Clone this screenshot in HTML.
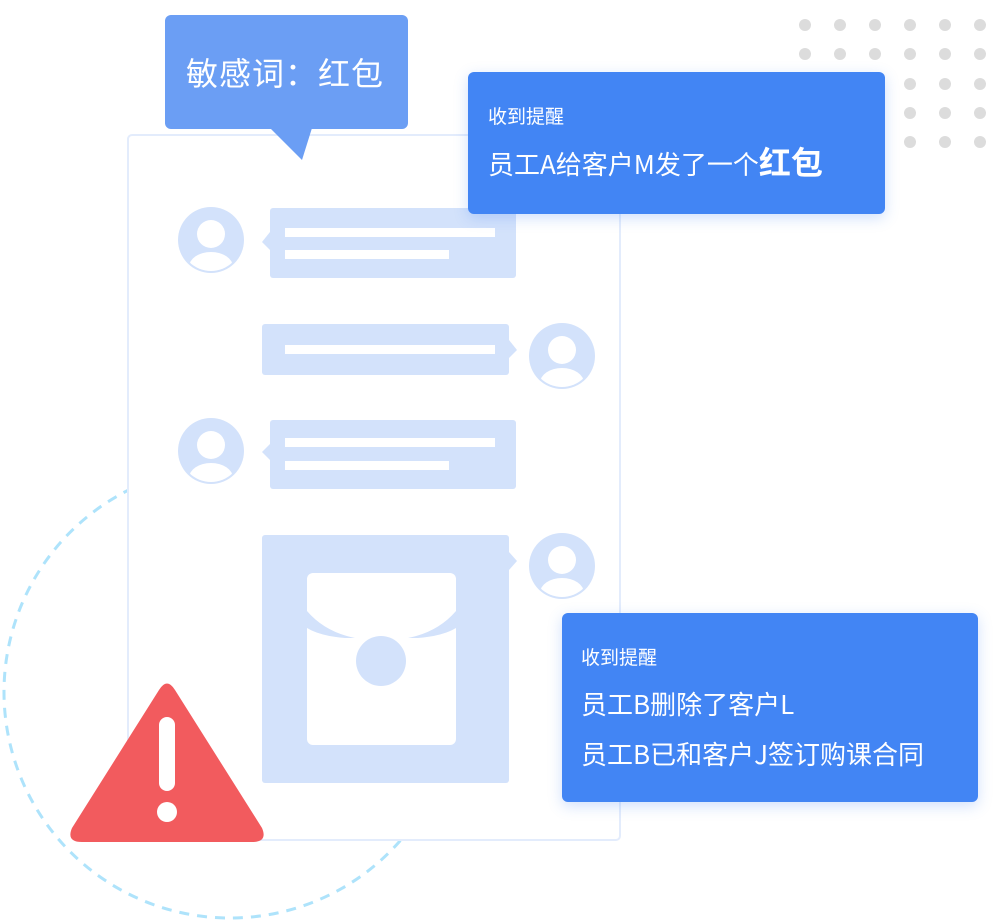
<!DOCTYPE html>
<html><head><meta charset="utf-8"><style>
body{margin:0;width:996px;height:922px;background:#fff;position:relative;overflow:hidden;font-family:"Noto Sans CJK SC","Liberation Sans",sans-serif}
.abs{position:absolute}
.box{position:absolute;background:#4285f4;border-radius:6px;color:#fff;box-shadow:0 4px 14px rgba(66,133,244,.25)}
</style></head><body>
<svg class="abs" style="left:0;top:0" width="996" height="922">
<circle cx="230" cy="692" r="226" fill="none" stroke="#aee3fb" stroke-width="3" stroke-dasharray="10 8"/>
<g fill="#dcdcdc">
<circle cx="805" cy="25" r="6"/><circle cx="840" cy="25" r="6"/><circle cx="875" cy="25" r="6"/><circle cx="910" cy="25" r="6"/><circle cx="945" cy="25" r="6"/><circle cx="980" cy="25" r="6"/>
<circle cx="805" cy="54" r="6"/><circle cx="840" cy="54" r="6"/><circle cx="875" cy="54" r="6"/><circle cx="910" cy="54" r="6"/><circle cx="945" cy="54" r="6"/><circle cx="980" cy="54" r="6"/>
<circle cx="910" cy="84" r="6"/><circle cx="945" cy="84" r="6"/><circle cx="980" cy="84" r="6"/>
<circle cx="910" cy="113" r="6"/><circle cx="945" cy="113" r="6"/><circle cx="980" cy="113" r="6"/>
<circle cx="910" cy="142" r="6"/><circle cx="945" cy="142" r="6"/><circle cx="980" cy="142" r="6"/>
</g>
<rect x="128" y="135" width="492" height="705" rx="4" fill="#fff" stroke="#e3ecfc" stroke-width="2"/>
<g fill="#d3e2fb">
<rect x="270" y="208" width="246" height="70" rx="3"/><polygon points="270,232 262,242 270,250"/>
<rect x="262" y="324" width="247" height="51" rx="3"/><polygon points="509,340 517,350 509,358"/>
<rect x="270" y="420" width="246" height="69" rx="3"/><polygon points="270,444 262,452 270,460"/>
<rect x="262" y="535" width="247" height="248" rx="3"/><polygon points="509,552 517,561 509,570"/>
</g>
<g fill="#fff">
<rect x="285" y="228" width="210" height="9"/><rect x="285" y="250" width="164" height="9"/>
<rect x="285" y="345" width="210" height="9"/>
<rect x="285" y="438" width="210" height="9"/><rect x="285" y="461" width="164" height="9"/>
<rect x="307" y="573" width="149" height="172" rx="6"/>
</g>
<path d="M307 611 Q325 632 355 638 L345 638 Q320 636 307 628 Z M456 611 Q438 632 408 638 L418 638 Q443 636 456 628 Z" fill="#d3e2fb"/>
<circle cx="381" cy="661" r="25" fill="#d3e2fb"/>
<defs><clipPath id="a1"><circle cx="0" cy="0" r="31"/></clipPath></defs>
<g transform="translate(211,240)"><circle r="33" fill="#d3e2fb"/><g clip-path="url(#a1)" fill="#fff"><circle cy="-6" r="14"/><ellipse cy="27" rx="22" ry="15"/></g></g>
<g transform="translate(562,356)"><circle r="33" fill="#d3e2fb"/><g clip-path="url(#a1)" fill="#fff"><circle cy="-6" r="14"/><ellipse cy="27" rx="22" ry="15"/></g></g>
<g transform="translate(211,451)"><circle r="33" fill="#d3e2fb"/><g clip-path="url(#a1)" fill="#fff"><circle cy="-6" r="14"/><ellipse cy="27" rx="22" ry="15"/></g></g>
<g transform="translate(562,566)"><circle r="33" fill="#d3e2fb"/><g clip-path="url(#a1)" fill="#fff"><circle cy="-6" r="14"/><ellipse cy="27" rx="22" ry="15"/></g></g>
<rect x="165" y="15" width="243" height="114" rx="6" fill="#6b9ef4"/>
<polygon points="270,128 312,128 302,160" fill="#6b9ef4"/>
<path d="M159 690 Q167 677 175 690 L262 828 Q268 842 252 842 L82 842 Q66 842 72 828 Z" fill="#f25b5e"/>
<rect x="159" y="717" width="16" height="74" rx="8" fill="#fff"/>
<circle cx="167" cy="812" r="10" fill="#fff"/>
</svg>
<div class="abs" style="left:186px;top:50px;font-size:32px;color:#fff;line-height:44px;letter-spacing:1px;white-space:nowrap">敏感词：红包</div>
<div class="box" style="left:468px;top:72px;width:417px;height:142px">
<div class="abs" style="left:20px;top:31px;font-size:19px;line-height:26px">收到提醒</div>
<div class="abs" style="left:20px;top:70px;font-size:26px;line-height:38px;white-space:nowrap">员工A给客户M发了一个<b style="font-size:32px">红包</b></div>
</div>
<div class="box" style="left:562px;top:613px;width:416px;height:189px">
<div class="abs" style="left:19px;top:31px;font-size:19px;line-height:26px">收到提醒</div>
<div class="abs" style="left:19px;top:73px;font-size:26px;line-height:36px;white-space:nowrap">员工B删除了客户L</div>
<div class="abs" style="left:19px;top:123px;font-size:26px;line-height:36px;white-space:nowrap">员工B已和客户J签订购课合同</div>
</div>
</body></html>
